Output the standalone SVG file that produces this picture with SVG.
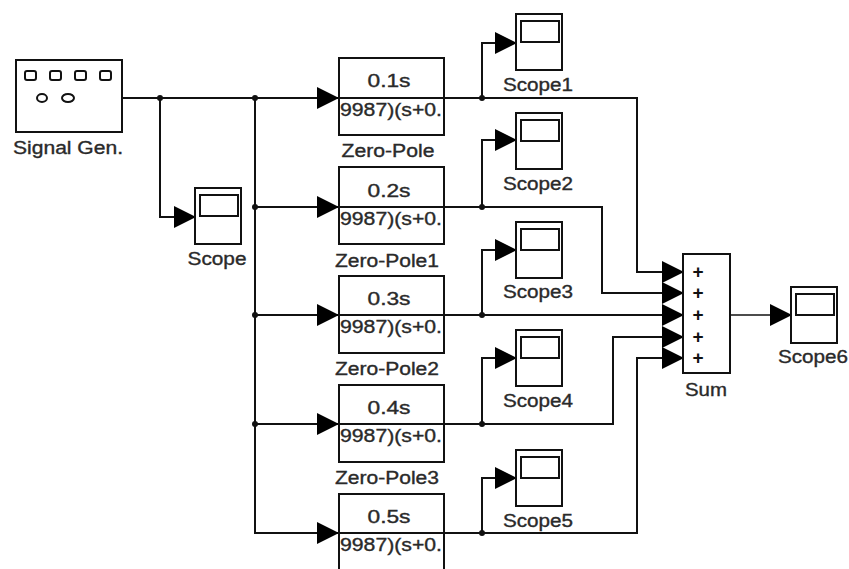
<svg xmlns="http://www.w3.org/2000/svg" width="849" height="569" viewBox="0 0 849 569">
<style>
.ln{fill:none;stroke:#111;stroke-width:2}
.ln1{fill:none;stroke:#111;stroke-width:1.5}
.blk{fill:#fff;stroke:#111;stroke-width:2}
.thin{fill:none;stroke:#111;stroke-width:2}
.lbl{font-family:"Liberation Sans",Arial,sans-serif;font-size:17.5px;fill:#2a2a2a;stroke:#2a2a2a;stroke-width:0.35;text-anchor:middle}
.st{font-family:"Liberation Sans",Arial,sans-serif;font-size:17.5px;fill:#2a2a2a;stroke:#2a2a2a;stroke-width:0.35}
.pl{font-family:"Liberation Sans",Arial,sans-serif;font-size:19px;font-weight:bold;fill:#111;text-anchor:middle}
.dot{fill:#111}
</style>
<defs>
<marker id="ah" markerUnits="userSpaceOnUse" markerWidth="22" markerHeight="22" viewBox="0 0 22 22" refX="22" refY="11" orient="auto">
<path d="M0,0 L22,11 L0,22 Z" fill="#000"/>
</marker>
<g id="scopeIcon">
<rect class="blk" x="0" y="0" width="46" height="56"/>
<rect class="thin" x="5" y="7" width="38" height="21"/>
</g>
</defs>
<rect width="849" height="569" fill="#fff"/>

<g id="connectors">
<path class="ln" d="M122,98 H339" marker-end="url(#ah)"/>
<path class="ln" d="M160,98 V217 H196" marker-end="url(#ah)"/>
<path class="ln" d="M255,98 V533 H339" marker-end="url(#ah)"/>
<path class="ln" d="M255,207 H339" marker-end="url(#ah)"/>
<path class="ln" d="M255,315 H339" marker-end="url(#ah)"/>
<path class="ln" d="M255,424 H339" marker-end="url(#ah)"/>
<path class="ln" d="M444,98 H637 V272 H684" marker-end="url(#ah)"/>
<path class="ln" d="M444,207 H602 V293 H684" marker-end="url(#ah)"/>
<path class="ln" d="M444,315 H684" marker-end="url(#ah)"/>
<path class="ln" d="M444,424 H613 V337 H684" marker-end="url(#ah)"/>
<path class="ln" d="M444,533 H637 V358 H684" marker-end="url(#ah)"/>
<path class="ln" d="M482,98 V43 H517" marker-end="url(#ah)"/>
<path class="ln" d="M482,207 V140 H517" marker-end="url(#ah)"/>
<path class="ln" d="M482,315 V250 H517" marker-end="url(#ah)"/>
<path class="ln" d="M482,424 V358 H517" marker-end="url(#ah)"/>
<path class="ln" d="M482,533 V478 H517" marker-end="url(#ah)"/>
<path class="ln1" d="M730,315 H792" marker-end="url(#ah)"/>
<circle class="dot" cx="160" cy="98" r="3"/>
<circle class="dot" cx="255" cy="98" r="3"/>
<circle class="dot" cx="255" cy="207" r="3"/>
<circle class="dot" cx="255" cy="315" r="3"/>
<circle class="dot" cx="255" cy="424" r="3"/>
<circle class="dot" cx="482" cy="98" r="3"/>
<circle class="dot" cx="482" cy="207" r="3"/>
<circle class="dot" cx="482" cy="315" r="3"/>
<circle class="dot" cx="482" cy="424" r="3"/>
<circle class="dot" cx="482" cy="533" r="3"/>
</g>

<g id="signal-gen">
<rect class="blk" x="16" y="60" width="106" height="72"/>
<rect class="thin" x="25" y="71" width="11" height="9" rx="2"/>
<rect class="thin" x="50" y="71" width="11" height="9" rx="2"/>
<rect class="thin" x="75" y="71" width="11" height="9" rx="2"/>
<rect class="thin" x="100" y="71" width="11" height="9" rx="2"/>
<ellipse class="thin" cx="42" cy="98" rx="5" ry="4"/>
<ellipse class="thin" cx="68" cy="98" rx="6" ry="4"/>
<text class="st" x="13" y="154" textLength="110" lengthAdjust="spacingAndGlyphs">Signal Gen.</text>
</g>

<g id="scope">
<use href="#scopeIcon" x="195" y="188"/>
<text class="lbl" x="217" y="265" textLength="59" lengthAdjust="spacingAndGlyphs">Scope</text>
</g>

<g id="zero-pole">
<rect class="blk" x="339" y="58" width="105" height="77"/>
<line class="ln" x1="339" y1="98" x2="444" y2="98"/>
<text class="lbl" x="389" y="87" textLength="43" lengthAdjust="spacingAndGlyphs">0.1s</text>
<text class="st" x="340" y="116" textLength="102" lengthAdjust="spacingAndGlyphs">9987)(s+0.</text>
<text class="lbl" x="388" y="157" textLength="93" lengthAdjust="spacingAndGlyphs">Zero-Pole</text>
</g>
<g id="zero-pole1">
<rect class="blk" x="339" y="167" width="105" height="77"/>
<line class="ln" x1="339" y1="207" x2="444" y2="207"/>
<text class="lbl" x="389" y="197" textLength="43" lengthAdjust="spacingAndGlyphs">0.2s</text>
<text class="st" x="340" y="225" textLength="102" lengthAdjust="spacingAndGlyphs">9987)(s+0.</text>
<text class="lbl" x="387" y="267" textLength="104" lengthAdjust="spacingAndGlyphs">Zero-Pole1</text>
</g>
<g id="zero-pole2">
<rect class="blk" x="339" y="276" width="105" height="77"/>
<line class="ln" x1="339" y1="315" x2="444" y2="315"/>
<text class="lbl" x="389" y="305" textLength="43" lengthAdjust="spacingAndGlyphs">0.3s</text>
<text class="st" x="340" y="333" textLength="102" lengthAdjust="spacingAndGlyphs">9987)(s+0.</text>
<text class="lbl" x="387" y="375" textLength="104" lengthAdjust="spacingAndGlyphs">Zero-Pole2</text>
</g>
<g id="zero-pole3">
<rect class="blk" x="339" y="385" width="105" height="77"/>
<line class="ln" x1="339" y1="424" x2="444" y2="424"/>
<text class="lbl" x="389" y="414" textLength="43" lengthAdjust="spacingAndGlyphs">0.4s</text>
<text class="st" x="340" y="442" textLength="102" lengthAdjust="spacingAndGlyphs">9987)(s+0.</text>
<text class="lbl" x="387" y="484" textLength="104" lengthAdjust="spacingAndGlyphs">Zero-Pole3</text>
</g>
<g id="zero-pole4">
<rect class="blk" x="339" y="494" width="105" height="78"/>
<line class="ln" x1="339" y1="533" x2="444" y2="533"/>
<text class="lbl" x="389" y="523" textLength="43" lengthAdjust="spacingAndGlyphs">0.5s</text>
<text class="st" x="340" y="551" textLength="102" lengthAdjust="spacingAndGlyphs">9987)(s+0.</text>
</g>

<g id="scope1">
<use href="#scopeIcon" x="516" y="14"/>
<text class="lbl" x="538" y="91" textLength="70" lengthAdjust="spacingAndGlyphs">Scope1</text>
</g>
<g id="scope2">
<use href="#scopeIcon" x="516" y="113"/>
<text class="lbl" x="538" y="190" textLength="70" lengthAdjust="spacingAndGlyphs">Scope2</text>
</g>
<g id="scope3">
<use href="#scopeIcon" x="516" y="222"/>
<text class="lbl" x="538" y="298" textLength="70" lengthAdjust="spacingAndGlyphs">Scope3</text>
</g>
<g id="scope4">
<use href="#scopeIcon" x="516" y="330"/>
<text class="lbl" x="538" y="407" textLength="70" lengthAdjust="spacingAndGlyphs">Scope4</text>
</g>
<g id="scope5">
<use href="#scopeIcon" x="516" y="450"/>
<text class="lbl" x="538" y="527" textLength="70" lengthAdjust="spacingAndGlyphs">Scope5</text>
</g>

<g id="sum">
<rect class="blk" x="683" y="254" width="47" height="119"/>
<text class="pl" x="698" y="278">+</text>
<text class="pl" x="698" y="299">+</text>
<text class="pl" x="698" y="321">+</text>
<text class="pl" x="698" y="343">+</text>
<text class="pl" x="698" y="364">+</text>
<text class="lbl" x="706" y="396" textLength="42" lengthAdjust="spacingAndGlyphs">Sum</text>
</g>

<g id="scope6">
<use href="#scopeIcon" x="791" y="287"/>
<text class="lbl" x="813" y="363" textLength="70" lengthAdjust="spacingAndGlyphs">Scope6</text>
</g>
</svg>
